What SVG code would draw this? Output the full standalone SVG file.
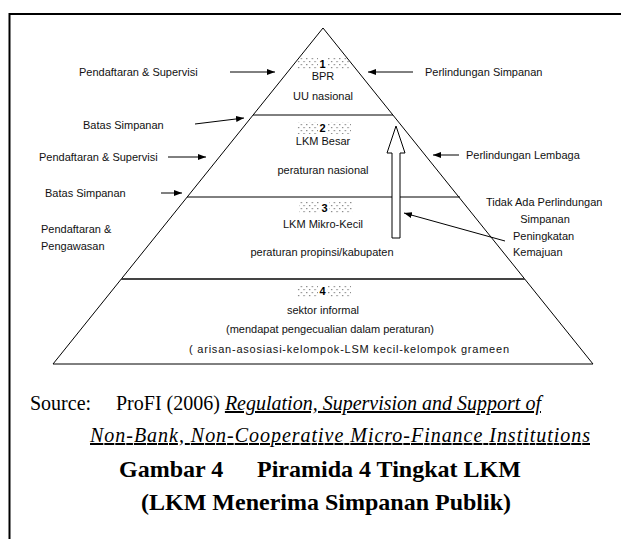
<svg xmlns="http://www.w3.org/2000/svg" width="621" height="539" viewBox="0 0 621 539">
<style>
.t{font-family:"Liberation Sans",Arial,sans-serif;font-size:11px;fill:#111}
.c{text-anchor:middle}
.n{font-family:"Liberation Sans",Arial,sans-serif;font-size:11px;font-weight:bold;fill:#000;text-anchor:middle}
.ln{stroke:#000;stroke-width:1;fill:none}
.ar{stroke:#000;stroke-width:1;fill:none;marker-end:url(#ah)}
.s{font-family:"Liberation Serif","Times New Roman",serif;font-size:20px;fill:#000}
.i{font-style:italic;text-decoration:underline}
.h{font-family:"Liberation Serif","Times New Roman",serif;font-size:24px;font-weight:bold;fill:#000}
</style>
<defs>
<marker id="ah" viewBox="0 0 8 6" refX="8" refY="3" markerWidth="8" markerHeight="6" markerUnits="userSpaceOnUse" orient="auto">
<path d="M0,0 L8,3 L0,6 Z" fill="#000"/>
</marker>
<pattern id="dots" width="5.5" height="6" patternUnits="userSpaceOnUse">
<rect x="1" y="1" width="1.2" height="1.2" fill="#777"/>
<rect x="3.7" y="4" width="1.2" height="1.2" fill="#777"/>
</pattern>
</defs>
<path d="M9.5,539 V14 H621" stroke="#000" stroke-width="2" fill="none"/>
<g id="pyramid">
<path class="ln" d="M323,28 L53,364 L593,364 Z"/>
<line class="ln" x1="253" y1="115" x2="393" y2="115"/>
<line class="ln" x1="187" y1="197" x2="460" y2="197"/>
<line x1="121" y1="279" x2="525" y2="279" stroke="#444" stroke-width="1.8"/>
</g>
<g id="level1">
<rect x="297" y="58" width="52" height="12" fill="url(#dots)"/>
<rect x="318" y="58" width="9" height="12" fill="#fff"/>
<text class="n" x="322.5" y="68">1</text>
<text class="t c" x="323" y="80">BPR</text>
<text class="t c" x="323" y="100">UU nasional</text>
</g>
<g id="level2">
<rect x="297" y="122" width="54" height="12" fill="url(#dots)"/>
<rect x="318" y="122" width="9" height="12" fill="#fff"/>
<text class="n" x="322.5" y="132">2</text>
<text class="t c" x="323" y="145">LKM Besar</text>
<text class="t c" x="323" y="174">peraturan nasional</text>
</g>
<g id="level3">
<rect x="299" y="202" width="54" height="12" fill="url(#dots)"/>
<rect x="320" y="202" width="9" height="12" fill="#fff"/>
<text class="n" x="324.5" y="212">3</text>
<text class="t c" x="323" y="228">LKM Mikro-Kecil</text>
<text class="t c" x="322" y="256">peraturan propinsi/kabupaten</text>
</g>
<g id="level4">
<rect x="297" y="285" width="54" height="12" fill="url(#dots)"/>
<rect x="318" y="285" width="9" height="12" fill="#fff"/>
<text class="n" x="322.5" y="295">4</text>
<text class="t c" x="323" y="314">sektor informal</text>
<text class="t c" x="330" y="333">(mendapat pengecualian dalam peraturan)</text>
<text class="t" x="189" y="353" textLength="320" lengthAdjust="spacing">( arisan-asosiasi-kelompok-LSM kecil-kelompok grameen</text>
</g>
<g id="labels">
<text class="t" x="79" y="76">Pendaftaran &amp; Supervisi</text>
<text class="t" x="425" y="76">Perlindungan Simpanan</text>
<text class="t" x="83" y="129">Batas Simpanan</text>
<text class="t" x="39" y="161">Pendaftaran &amp; Supervisi</text>
<text class="t" x="466" y="159">Perlindungan Lembaga</text>
<text class="t" x="45" y="197">Batas Simpanan</text>
<text class="t" x="486" y="206">Tidak Ada Perlindungan</text>
<text class="t c" x="545" y="223">Simpanan</text>
<text class="t" x="41" y="233">Pendaftaran &amp;</text>
<text class="t" x="41" y="250">Pengawasan</text>
<text class="t" x="513" y="240">Peningkatan</text>
<text class="t" x="513" y="256">Kemajuan</text>
</g>
<g id="connectors">
<line class="ar" x1="230" y1="72" x2="275" y2="72"/>
<line class="ar" x1="413" y1="72" x2="368" y2="72"/>
<line class="ar" x1="195" y1="124" x2="244" y2="118"/>
<line class="ar" x1="168" y1="157" x2="206" y2="157"/>
<line class="ar" x1="459" y1="155" x2="433" y2="155"/>
<line class="ar" x1="161" y1="193" x2="182" y2="193"/>
<line class="ar" x1="505" y1="241" x2="404" y2="213"/>
<path d="M396,126 L405,153 L400,153 L400,238 L392,238 L392,153 L387,153 Z" fill="#fff" stroke="#000" stroke-width="1"/>
</g>
<g id="caption">
<text class="s" x="30" y="410">Source:</text>
<text class="s" x="116" y="410">ProFI (2006) <tspan class="i">Regulation, Supervision and Support of </tspan></text>
<text class="s i" x="90" y="442" textLength="500" lengthAdjust="spacing">Non-Bank, Non-Cooperative Micro-Finance Institutions</text>
<text class="h" x="119" y="477">Gambar 4</text>
<text class="h" x="257" y="477">Piramida 4 Tingkat LKM</text>
<text class="h" x="141" y="510">(LKM Menerima Simpanan Publik)</text>
</g>
</svg>
